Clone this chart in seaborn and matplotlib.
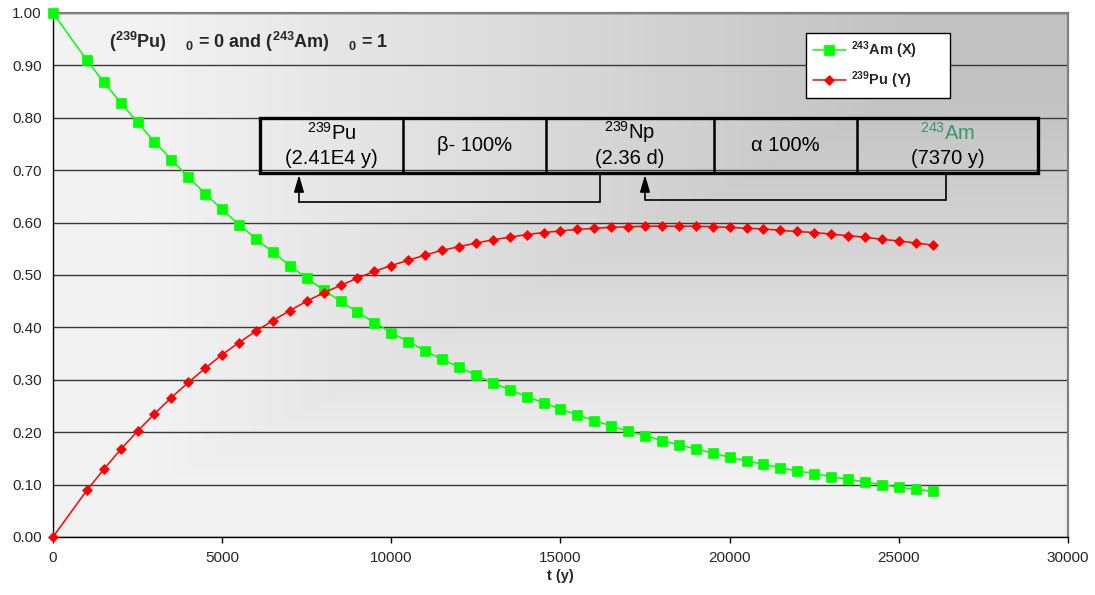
import numpy as np
import matplotlib
matplotlib.use("Agg")
import matplotlib.pyplot as plt
import seaborn as sns
from matplotlib.patches import Rectangle

# ---------------- data ----------------
t_years = [0, 1000, 1500, 2000, 2500, 3000, 3500, 4000, 4500, 5000, 5500, 6000,
           6500, 7000, 7500, 8000, 8500, 9000, 9500, 10000, 10500, 11000, 11500,
           12000, 12500, 13000, 13500, 14000, 14500, 15000, 15500, 16000, 16500,
           17000, 17500, 18000, 18500, 19000, 19500, 20000, 20500, 21000, 21500,
           22000, 22500, 23000, 23500, 24000, 24500, 25000, 25500, 26000]

am243 = [1.000, 0.910, 0.868, 0.829, 0.791, 0.754, 0.720, 0.687, 0.655, 0.625,
         0.596, 0.569, 0.543, 0.518, 0.494, 0.471, 0.450, 0.429, 0.409, 0.390,
         0.373, 0.355, 0.339, 0.324, 0.309, 0.294, 0.281, 0.268, 0.256, 0.244,
         0.233, 0.222, 0.212, 0.202, 0.193, 0.184, 0.176, 0.168, 0.160, 0.152,
         0.145, 0.139, 0.132, 0.126, 0.121, 0.115, 0.110, 0.105, 0.100, 0.095,
         0.091, 0.087]

pu239 = [0.000, 0.089, 0.129, 0.167, 0.202, 0.235, 0.266, 0.295, 0.322, 0.348,
         0.371, 0.393, 0.413, 0.432, 0.450, 0.466, 0.480, 0.494, 0.507, 0.518,
         0.528, 0.538, 0.547, 0.554, 0.561, 0.567, 0.572, 0.577, 0.581, 0.584,
         0.587, 0.589, 0.591, 0.592, 0.593, 0.593, 0.593, 0.593, 0.592, 0.591,
         0.589, 0.588, 0.585, 0.583, 0.581, 0.578, 0.575, 0.572, 0.568, 0.565,
         0.561, 0.557]

x_ticks = [0, 5000, 10000, 15000, 20000, 25000, 30000]
y_ticks = [0.0, 0.1, 0.2, 0.3, 0.4, 0.5, 0.6, 0.7, 0.8, 0.9, 1.0]
y_tick_labels = ["0.00", "0.10", "0.20", "0.30", "0.40", "0.50", "0.60",
                 "0.70", "0.80", "0.90", "1.00"]

legend_labels = [r"$^{\mathbf{243}}$Am (X)", r"$^{\mathbf{239}}$Pu (Y)"]
title_text = (r"($^{\mathbf{239}}$Pu)    $_{\mathbf{0}}$ = 0 and "
              r"($^{\mathbf{243}}$Am)    $_{\mathbf{0}}$ = 1")
x_label = "t (y)"

cell_top_text = [r"$^{239}$Pu", "β- 100%", r"$^{239}$Np", "α 100%", r"$^{243}$Am"]
cell_bottom_text = ["(2.41E4 y)", None, "(2.36 d)", None, "(7370 y)"]

# ---------------- style ----------------
sns.set_theme(style="white")
plt.rcParams["font.family"] = ["Liberation Sans", "DejaVu Sans"]
plt.rcParams["mathtext.fontset"] = "custom"
plt.rcParams["mathtext.rm"] = "Liberation Sans"
plt.rcParams["mathtext.it"] = "Liberation Sans:italic"
plt.rcParams["mathtext.bf"] = "Liberation Sans:bold"
plt.rcParams["mathtext.sf"] = "Liberation Sans"

fig = plt.figure(figsize=(10.95, 5.95), dpi=100, facecolor="white")
ax = fig.add_axes([0.0484, 0.0975, 0.9269, 0.8807])

# gradient background of plot area (light lower-left, darker towards upper-right)
nx, ny = 500, 400
X, Y = np.meshgrid(np.linspace(0, 1, nx), np.linspace(0, 1, ny))
d = np.clip((np.minimum(X, Y) - 0.1) / 0.75, 0, 1)
g = (242 - 48 * d) / 255.0
ax.imshow(np.dstack([g, g, g]), extent=[0, 1, 0, 1], transform=ax.transAxes,
          origin="lower", aspect="auto", zorder=-10, interpolation="bilinear")

# series
sns.lineplot(x=t_years, y=am243, ax=ax, color="#00ff00", linewidth=1.1,
             marker="s", markersize=7, markeredgecolor="#00ff00",
             markeredgewidth=0.5, label=legend_labels[0], zorder=4,
             clip_on=False)
sns.lineplot(x=t_years, y=pu239, ax=ax, color="#ff0000", linewidth=1.1,
             marker="D", markersize=5.5, markeredgecolor="#ff0000",
             markeredgewidth=0.5, label=legend_labels[1], zorder=4,
             clip_on=False)

ax.set_xlim(0, 30000)
ax.set_ylim(0, 1.0)
ax.set_xticks(x_ticks)
ax.set_xticklabels([str(v) for v in x_ticks], fontsize=11)
ax.set_yticks(y_ticks)
ax.set_yticklabels(y_tick_labels, fontsize=11)
ax.tick_params(axis="x", direction="out", length=4, width=1, color="black",
               pad=6, bottom=True)
ax.tick_params(axis="y", length=0, pad=8)
ax.set_axisbelow(True)
ax.yaxis.grid(True, color="#3a3a3a", linewidth=1.0)
ax.xaxis.grid(False)

for side in ["left", "bottom"]:
    ax.spines[side].set_color("black")
    ax.spines[side].set_linewidth(1.0)
for side in ["top", "right"]:
    ax.spines[side].set_color("#808080")
    ax.spines[side].set_linewidth(1.6)

ax.set_xlabel(x_label, fontsize=10.5, fontweight="bold", labelpad=3)
ax.set_ylabel("")

# title-like annotation inside plot
ax.text(1650, 0.944, title_text, fontsize=13, fontweight="bold",
        va="center", ha="left", zorder=5)

# decay chain box
cell_edges = [6118, 10345, 14571, 19537, 23764, 29113]
box_y0, box_y1 = 0.695, 0.800
ax.add_patch(Rectangle((cell_edges[0], box_y0), cell_edges[-1] - cell_edges[0],
                       box_y1 - box_y0, fill=False, edgecolor="black",
                       linewidth=2.4, zorder=5))
ax.vlines(cell_edges[1:-1], box_y0, box_y1, color="black", linewidth=1.8, zorder=5)
for i, (top, bot) in enumerate(zip(cell_top_text, cell_bottom_text)):
    xc = (cell_edges[i] + cell_edges[i + 1]) / 2
    col = "#339966" if i == 4 else "black"
    if bot is None:
        ax.text(xc, 0.747, top, fontsize=14.5, ha="center", va="center",
                color=col, zorder=6)
    else:
        ax.text(xc, 0.772, top, fontsize=14.5, ha="center", va="center",
                color=col, zorder=6)
        ax.text(xc, 0.722, bot, fontsize=14.5, ha="center", va="center",
                color="black", zorder=6)

# arrows of the decay chain
arrow_paths = [(16167, 7271, 0.639), (26394, 17498, 0.644)]
for x_from, x_to, y_mid in arrow_paths:
    ax.plot([x_from, x_from, x_to], [box_y0, y_mid, y_mid], color="black",
            linewidth=1.2, zorder=5, solid_joinstyle="miter")
    ax.annotate("", xy=(x_to, box_y0 - 0.004), xytext=(x_to, y_mid),
                arrowprops=dict(arrowstyle="-|>,head_length=0.85,head_width=0.25",
                                color="black", lw=1.2, shrinkA=0, shrinkB=0),
                zorder=5)

# legend
leg = ax.legend(loc="upper left", bbox_to_anchor=(0.742, 0.862, 0.142, 0.1),
                mode="expand", frameon=True, fancybox=False, framealpha=1,
                facecolor="white", edgecolor="black",
                prop=dict(weight="bold", size=10.5), handlelength=2.3,
                handletextpad=0.3, borderpad=0.45, labelspacing=0.6,
                borderaxespad=0)
leg.get_frame().set_linewidth(1.0)
leg.set_zorder(7)

fig.savefig("out.png", dpi=100, facecolor="white")
